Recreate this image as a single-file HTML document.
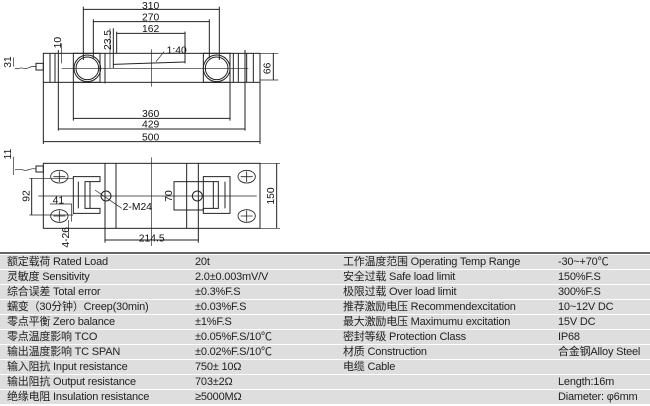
<!DOCTYPE html>
<html><head><meta charset="utf-8"><style>
body{margin:0;width:650px;height:406px;background:#fff;overflow:hidden;position:relative;font-family:"Liberation Sans","Noto Sans CJK SC",sans-serif}
svg{position:absolute;left:0;top:0}
#tb{position:absolute;left:0;top:252px;width:650px;border-top:2px solid #666}
.r{height:14px;margin-top:1px;background:#dedede;position:relative;font-size:11px;line-height:14px;color:#222;letter-spacing:-0.2px}
.r span{position:absolute;top:0;white-space:nowrap}
.a{left:7px}.b{left:195px}.c{left:343px}.d{left:558px}
</style></head><body>
<svg width="325" height="250" viewBox="0 0 975 750" fill="none" stroke="#222" stroke-width="3">
<g>
<rect x="130" y="160" width="650" height="87"/>
<line x1="150" y1="160" x2="150" y2="247"/><line x1="165" y1="160" x2="165" y2="247"/>
<rect x="220" y="160" width="80" height="87"/><rect x="610" y="160" width="80" height="87"/>
<line x1="315" y1="160" x2="315" y2="250"/><line x1="700" y1="160" x2="700" y2="247"/>
<line x1="715" y1="160" x2="715" y2="247"/><line x1="740" y1="160" x2="740" y2="247"/><line x1="760" y1="160" x2="760" y2="247"/>
<circle cx="262" cy="205" r="40"/><circle cx="262" cy="205" r="34"/>
<circle cx="650" cy="205" r="40"/><circle cx="650" cy="205" r="34"/>
<line x1="185" y1="205" x2="745" y2="205" stroke-width="2"/>
<line x1="455" y1="148" x2="455" y2="260" stroke-width="2"/>
<line x1="340" y1="193" x2="555" y2="186"/><line x1="555" y1="95" x2="555" y2="190"/>
<line x1="340" y1="85" x2="340" y2="205"/><line x1="330" y1="85" x2="330" y2="205" stroke-width="2"/>
<line x1="468" y1="185" x2="492" y2="155" stroke-width="2"/>
<line x1="250" y1="28" x2="658" y2="28"/><line x1="250" y1="20" x2="250" y2="180"/><line x1="658" y1="20" x2="658" y2="180"/>
<line x1="280" y1="65" x2="628" y2="65"/><line x1="280" y1="58" x2="280" y2="175"/><line x1="628" y1="58" x2="628" y2="175"/>
<line x1="350" y1="100" x2="555" y2="100"/><line x1="350" y1="95" x2="350" y2="160"/>
<line x1="185" y1="130" x2="185" y2="190" stroke-width="2"/>
<line x1="40" y1="172" x2="40" y2="200" stroke-width="2"/>
<line x1="820" y1="160" x2="820" y2="240"/><line x1="780" y1="160" x2="835" y2="160" stroke-width="2"/><line x1="780" y1="240" x2="835" y2="240" stroke-width="2"/>
<line x1="220" y1="247" x2="220" y2="362"/><line x1="690" y1="247" x2="690" y2="362"/><line x1="220" y1="355" x2="690" y2="355"/>
<line x1="175" y1="150" x2="175" y2="392"/><line x1="735" y1="150" x2="735" y2="392"/><line x1="175" y1="387" x2="735" y2="387"/>
<line x1="130" y1="247" x2="130" y2="432"/><line x1="780" y1="247" x2="780" y2="432"/><line x1="130" y1="425" x2="780" y2="425"/>
<rect x="108" y="190" width="22" height="20"/>
<path d="M108 200 C90 195 85 210 70 205 C60 200 55 210 45 205" stroke-width="2"/>
<rect x="130" y="490" width="650" height="195"/>
<line x1="315" y1="490" x2="315" y2="728"/><line x1="348" y1="490" x2="348" y2="685"/>
<line x1="560" y1="490" x2="560" y2="685"/><line x1="595" y1="490" x2="595" y2="728"/>
<line x1="455" y1="472" x2="455" y2="738" stroke-width="2"/>
<line x1="115" y1="588" x2="770" y2="588" stroke-width="2"/>
<g stroke-width="2.5">
<ellipse cx="178" cy="530" rx="26" ry="19"/><ellipse cx="178" cy="648" rx="26" ry="19"/>
<ellipse cx="740" cy="530" rx="26" ry="19"/><ellipse cx="740" cy="648" rx="26" ry="19"/>
<path d="M160 530h36M178 514v32M160 648h36M178 632v32M722 530h36M740 514v32M722 648h36M740 632v32"/>
</g>
<path d="M300 530H220V640H300V625H255V545H300Z"/>
<path d="M235 545V625M270 545V625"/>
<path d="M610 530H690V640H610V625H655V545H610Z"/>
<path d="M675 545V625M640 545V625"/>
<rect x="522" y="545" width="88" height="85"/>
<circle cx="318" cy="588" r="15"/><circle cx="592" cy="588" r="15"/>
<line x1="285" y1="570" x2="365" y2="625" stroke-width="2"/>
<line x1="95" y1="535" x2="95" y2="645"/><line x1="88" y1="535" x2="220" y2="535" stroke-width="2"/><line x1="88" y1="645" x2="220" y2="645" stroke-width="2"/>
<line x1="150" y1="612" x2="215" y2="612" stroke-width="2"/><line x1="215" y1="612" x2="215" y2="665" stroke-width="2"/>
<line x1="205" y1="660" x2="205" y2="700" stroke-width="2"/>
<line x1="830" y1="490" x2="830" y2="685"/><line x1="780" y1="490" x2="840" y2="490" stroke-width="2"/><line x1="780" y1="685" x2="840" y2="685" stroke-width="2"/>
<line x1="315" y1="720" x2="595" y2="720"/>
<line x1="40" y1="470" x2="40" y2="525" stroke-width="2"/>
<rect x="108" y="498" width="22" height="18"/>
<path d="M108 507 C90 502 85 515 70 510 C60 505 55 512 45 508" stroke-width="2"/>
</g>
<g fill="#111" stroke="none" font-family="Liberation Sans, sans-serif" font-size="31">
<text x="452" y="27" text-anchor="middle">310</text>
<text x="452" y="61" text-anchor="middle">270</text>
<text x="452" y="96" text-anchor="middle">162</text>
<text x="500" y="160">1:40</text>
<text x="452" y="351" text-anchor="middle">360</text>
<text x="452" y="383" text-anchor="middle">429</text>
<text x="452" y="421" text-anchor="middle">500</text>
<text x="455" y="725" text-anchor="middle">214.5</text>
<text x="368" y="630">2-M24</text>
<text x="158" y="610">41</text>
<text transform="translate(333,120) rotate(-90)" text-anchor="middle">23.5</text>
<text transform="translate(183,128) rotate(-90)" text-anchor="middle">10</text>
<text transform="translate(33,186) rotate(-90)" text-anchor="middle">31</text>
<text transform="translate(812,205) rotate(-90)" text-anchor="middle">66</text>
<text transform="translate(33,462) rotate(-90)" text-anchor="middle">11</text>
<text transform="translate(88,588) rotate(-90)" text-anchor="middle">92</text>
<text transform="translate(516,588) rotate(-90)" text-anchor="middle">70</text>
<text transform="translate(822,588) rotate(-90)" text-anchor="middle">150</text>
<text transform="translate(207,712) rotate(-90)" text-anchor="middle">4-26</text>
</g>
</svg>
<div id="tb">
<div class="r"><span class="a">额定载荷 Rated Load</span><span class="b">20t</span><span class="c">工作温度范围 Operating Temp Range</span><span class="d">-30~+70℃</span></div>
<div class="r"><span class="a">灵敏度 Sensitivity</span><span class="b">2.0±0.003mV/V</span><span class="c">安全过载 Safe load limit</span><span class="d">150%F.S</span></div>
<div class="r"><span class="a">综合误差 Total error</span><span class="b">±0.3%F.S</span><span class="c">极限过载 Over load limit</span><span class="d">300%F.S</span></div>
<div class="r"><span class="a">蠕变（30分钟）Creep(30min)</span><span class="b">±0.03%F.S</span><span class="c">推荐激励电压 Recommendexcitation</span><span class="d">10~12V DC</span></div>
<div class="r"><span class="a">零点平衡 Zero balance</span><span class="b">±1%F.S</span><span class="c">最大激励电压 Maximumu excitation</span><span class="d">15V DC</span></div>
<div class="r"><span class="a">零点温度影响 TCO</span><span class="b">±0.05%F.S/10℃</span><span class="c">密封等级 Protection Class</span><span class="d">IP68</span></div>
<div class="r"><span class="a">输出温度影响 TC SPAN</span><span class="b">±0.02%F.S/10℃</span><span class="c">材质 Construction</span><span class="d">合金钢Alloy Steel</span></div>
<div class="r"><span class="a">输入阻抗 Input resistance</span><span class="b">750± 10Ω</span><span class="c">电缆 Cable</span></div>
<div class="r"><span class="a">输出阻抗 Output resistance</span><span class="b">703±2Ω</span><span class="d">Length:16m</span></div>
<div class="r"><span class="a">绝缘电阻 Insulation resistance</span><span class="b">≥5000MΩ</span><span class="d">Diameter: φ6mm</span></div>
</div>
</body></html>
